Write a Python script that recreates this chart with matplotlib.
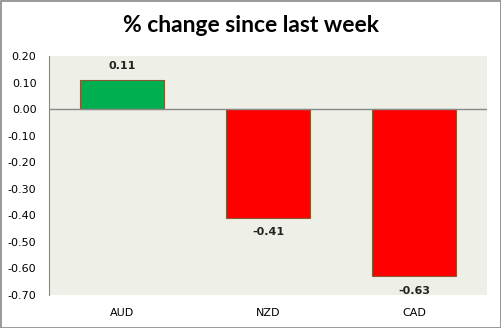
import matplotlib.pyplot as plt
from matplotlib.patches import Rectangle

currencies = ['AUD', 'NZD', 'CAD']
changes = [0.11, -0.41, -0.63]
labels = ['0.11', '-0.41', '-0.63']
colors = ['#00B050', '#FF0000', '#FF0000']

W, H = 502, 328
fig = plt.figure(figsize=(W / 100, H / 100), dpi=100)
ax = fig.add_axes([49 / W, 1 - 295 / H, 438 / W, 239 / H])
ax.set_facecolor('#EEF0E8')

x = range(len(currencies))
ax.bar(x, changes, width=0.57, color=colors, edgecolor='#8C5A32', linewidth=0.8)
ax.axhline(0, color='#888888', linewidth=1)

for i, (v, t) in enumerate(zip(changes, labels)):
    off = 0.035 if v > 0 else -0.035
    ax.text(i, v + off, t, ha='center', va='bottom' if v > 0 else 'top',
            fontsize=8, fontweight='bold', color='#222222')

ax.set_xlim(-0.5, 2.5)
ax.set_ylim(-0.70, 0.20)
ax.set_yticks([0.2 - 0.1 * k for k in range(10)])
ax.set_yticklabels(['%.2f' % (0.2 - 0.1 * k) for k in range(10)], fontsize=8)
ax.set_xticks(list(x))
ax.set_xticklabels(currencies, fontsize=8)
ax.tick_params(axis='x', length=0, pad=9)
ax.tick_params(axis='y', length=0, pad=9)
for s in ['top', 'right', 'bottom']:
    ax.spines[s].set_visible(False)
ax.spines['left'].set_color('#888888')

fig.text(0.5, 1 - 25 / H, '% change since last week', ha='center', va='center',
         fontsize=16.5, fontweight='bold', family='Lato')
fig.patches.append(Rectangle((0.5 / W, 0.5 / H), 1 - 1.5 / W, 1 - 1.5 / H,
                             transform=fig.transFigure, fill=False,
                             edgecolor='#888888', linewidth=1.2))

fig.savefig('out.png', dpi=100)
